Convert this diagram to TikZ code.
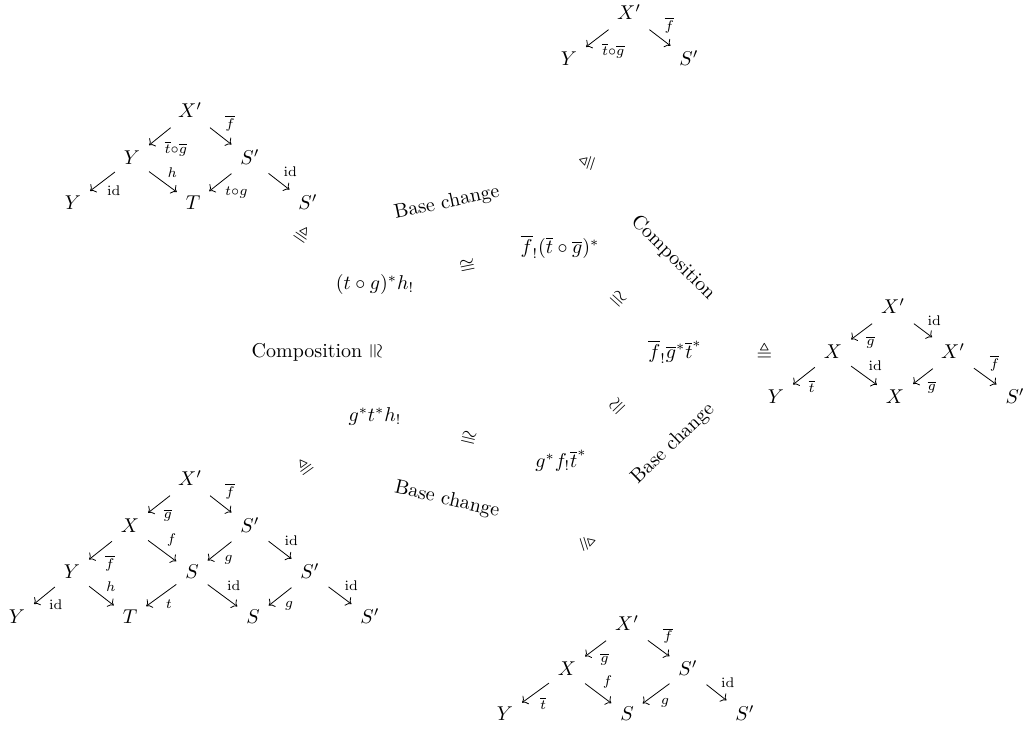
\documentclass[tikz,border=0pt]{standalone}
\usepackage{amsmath,amssymb}
\usetikzlibrary{arrows.meta}
\begin{document}
\begin{tikzpicture}[x=0.5pt, y=-0.5pt,
  obj/.style={inner xsep=1ex, inner ysep=0.85ex, text height=1.6ex, text depth=0.25ex},
  map/.style={-{Computer Modern Rightarrow}, line width=0.4pt},
  lab/.style={auto, inner sep=0.5ex, execute at begin node=$\scriptstyle, execute at end node=$},
  expr/.style={inner sep=3pt},
  eqv/.style={sloped, inner sep=0pt},
  side/.style={inner sep=0pt}]
\useasboundingbox (0,0) rectangle (1027,731);

% ---- the five functors round the pentagon ----
\node[expr] (v1) at (375,285) {$(t\circ g)^*h_!$};
\node[expr] (v2) at (560,247) {$\overline{f}_!(\overline{t}\circ\overline{g})^*$};
\node[expr] (v3) at (675,352) {$\overline{f}_!\overline{g}^*\overline{t}^*$};
\node[expr] (v4) at (561,461) {$g^*f_!\overline{t}^*$};
\node[expr] (v5) at (375,417) {$g^*t^*h_!$};

% isomorphisms between neighbouring functors
\path (v1) -- node[eqv] {$\cong$} (v2);
\path (v2) -- node[eqv] {$\cong$} (v3);
\path (v3) -- node[eqv] {$\cong$} (v4);
\path (v5) -- node[eqv] {$\cong$} (v4);
\path (v1) -- node[eqv] {$\cong$} (v5);

% names of the isomorphisms
\node[side, rotate=12]  (n12) at (447,203) {Base change};
\node[side, rotate=-45] (n23) at (673,258) {Composition};
\node[side, rotate=44]  (n34) at (673,444) {Base change};
\node[side, rotate=-13] (n54) at (447,500) {Base change};
\node[side]             (n15) at (307,352) {Composition};

% centres of the span diagrams
\coordinate (dtop) at (629,37);
\coordinate (dul)  at (190,158);
\coordinate (dr)   at (893,352);
\coordinate (dbl)  at (190,550);
\coordinate (db)   at (627,670);

\path (v2.center) -- node[pos=0.40, eqv] {$\triangleq$} (dtop);
\path (v1.center) -- node[pos=0.395, eqv] {$\triangleq$} (dul);
\path (v3.center) -- node[pos=0.41, eqv] {$\triangleq$} (dr);
\path (v5.center) -- node[pos=0.378, eqv] {$\triangleq$} (dbl);
\path (v4.center) -- node[pos=0.395, eqv] {$\triangleq$} (db);

% ---- top span ----
\node[obj] (b1) at (629,14) {$X'$};
\node[obj] (b2) at (569,60) {$Y$};
\node[obj] (b3) at (689,60) {$S'$};
\draw[map] (b1) -- node[lab] {\overline{t}\circ\overline{g}} (b2);
\draw[map] (b1) -- node[lab] {\overline{f}} (b3);

% ---- upper left span ----
\node[obj] (a1) at (190,112) {$X'$};
\node[obj] (a2) at (132,159) {$Y$};
\node[obj] (a3) at (250,159) {$S'$};
\node[obj] (a4) at (73,204)  {$Y$};
\node[obj] (a5) at (193,204) {$T$};
\node[obj] (a6) at (308,204) {$S'$};
\draw[map] (a1) -- node[lab] {\overline{t}\circ\overline{g}} (a2);
\draw[map] (a1) -- node[lab] {\overline{f}} (a3);
\draw[map] (a2) -- node[lab] {\mathrm{id}} (a4);
\draw[map] (a2) -- node[lab] {h} (a5);
\draw[map] (a3) -- node[lab] {t\circ g} (a5);
\draw[map] (a3) -- node[lab] {\mathrm{id}} (a6);

% ---- right span ----
\node[obj] (c1) at (893,308)  {$X'$};
\node[obj] (c2) at (833,353)  {$X$};
\node[obj] (c3) at (953,353)  {$X'$};
\node[obj] (c4) at (776,398)  {$Y$};
\node[obj] (c5) at (895,398)  {$X$};
\node[obj] (c6) at (1015,398) {$S'$};
\draw[map] (c1) -- node[lab] {\overline{g}} (c2);
\draw[map] (c1) -- node[lab] {\mathrm{id}} (c3);
\draw[map] (c2) -- node[lab] {\overline{t}} (c4);
\draw[map] (c2) -- node[lab] {\mathrm{id}} (c5);
\draw[map] (c3) -- node[lab] {\overline{g}} (c5);
\draw[map] (c3) -- node[lab] {\overline{f}} (c6);

% ---- lower left span ----
\node[obj] (d1)  at (190,480) {$X'$};
\node[obj] (d2)  at (130,527) {$X$};
\node[obj] (d3)  at (250,527) {$S'$};
\node[obj] (d4)  at (72,573)  {$Y$};
\node[obj] (d5)  at (192,573) {$S$};
\node[obj] (d6)  at (310,573) {$S'$};
\node[obj] (d7)  at (17,618)  {$Y$};
\node[obj] (d8)  at (130,618) {$T$};
\node[obj] (d9)  at (253,618) {$S$};
\node[obj] (d10) at (370,618) {$S'$};
\draw[map] (d1) -- node[lab] {\overline{g}} (d2);
\draw[map] (d1) -- node[lab] {\overline{f}} (d3);
\draw[map] (d2) -- node[lab] {\overline{f}} (d4);
\draw[map] (d2) -- node[lab] {f} (d5);
\draw[map] (d3) -- node[lab] {g} (d5);
\draw[map] (d3) -- node[lab] {\mathrm{id}} (d6);
\draw[map] (d4) -- node[lab] {\mathrm{id}} (d7);
\draw[map] (d4) -- node[lab] {h} (d8);
\draw[map] (d5) -- node[lab] {t} (d8);
\draw[map] (d5) -- node[lab] {\mathrm{id}} (d9);
\draw[map] (d6) -- node[lab] {g} (d9);
\draw[map] (d6) -- node[lab] {\mathrm{id}} (d10);

% ---- bottom span ----
\node[obj] (e1) at (627,625) {$X'$};
\node[obj] (e2) at (567,670) {$X$};
\node[obj] (e3) at (688,670) {$S'$};
\node[obj] (e4) at (505,715) {$Y$};
\node[obj] (e5) at (627,715) {$S$};
\node[obj] (e6) at (745,715) {$S'$};
\draw[map] (e1) -- node[lab] {\overline{g}} (e2);
\draw[map] (e1) -- node[lab] {\overline{f}} (e3);
\draw[map] (e2) -- node[lab] {\overline{t}} (e4);
\draw[map] (e2) -- node[lab] {f} (e5);
\draw[map] (e3) -- node[lab] {g} (e5);
\draw[map] (e3) -- node[lab] {\mathrm{id}} (e6);
\end{tikzpicture}
\end{document}
